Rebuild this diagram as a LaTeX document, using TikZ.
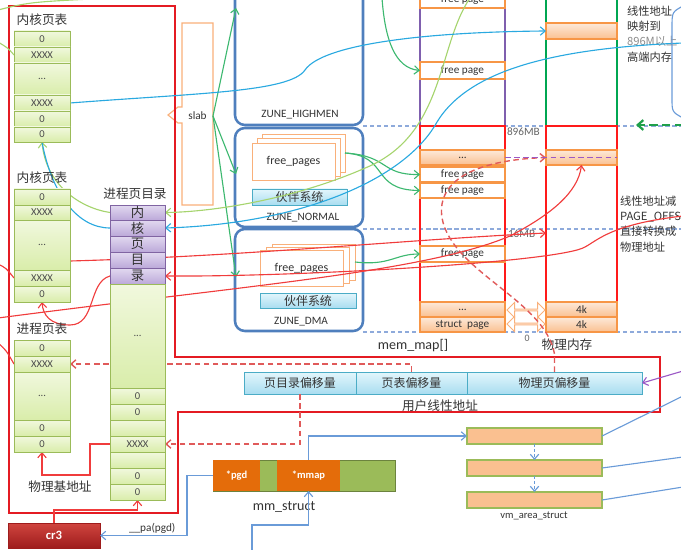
\documentclass[tikz,border=0pt]{standalone}
\usepackage{fontspec}
\setmainfont{Carlito}
\newfontfamily\cjk{Noto Sans CJK SC}
\usetikzlibrary{arrows.meta,shapes.arrows}
\pgfdeclarelayer{front}
\pgfsetlayers{main,front}

\definecolor{txt}{HTML}{333333}
\definecolor{frred}{HTML}{E41B23}
\definecolor{tblgreen}{HTML}{9BBB59}
\definecolor{tblA}{HTML}{F1F8DE}
\definecolor{tblB}{HTML}{D9EDAA}
\definecolor{dirline}{HTML}{8064A2}
\definecolor{dirA}{HTML}{E2D9F0}
\definecolor{dirB}{HTML}{BCA9D9}
\definecolor{zoneblue}{HTML}{4F7FBD}
\definecolor{sheetor}{HTML}{F9B07A}
\definecolor{orline}{HTML}{F79646}
\definecolor{orA}{HTML}{FDE9D9}
\definecolor{orB}{HTML}{FAC090}
\definecolor{barline}{HTML}{4BACC6}
\definecolor{barA}{HTML}{E3F6FC}
\definecolor{barB}{HTML}{A9DDF0}
\definecolor{sepblue}{HTML}{8EAADB}
\definecolor{memred}{HTML}{FF1A1A}
\definecolor{purcol}{HTML}{7F5FAE}
\definecolor{grncol}{HTML}{00A651}
\definecolor{lnred}{HTML}{F03C3C}
\definecolor{dashred}{HTML}{E05A5A}
\definecolor{lngreen}{HTML}{A6D46E}
\definecolor{sgreen}{HTML}{3DB870}
\definecolor{sky}{HTML}{2AA9E0}
\definecolor{mblue}{HTML}{6A9BD8}
\definecolor{purline}{HTML}{9B59C6}
\definecolor{dgreen}{HTML}{1FA04A}
\definecolor{crA}{HTML}{D0453F}
\definecolor{crB}{HTML}{9E1C1C}
\definecolor{mmgreen}{HTML}{9BBB59}
\definecolor{mmorange}{HTML}{E46C0A}
\definecolor{vmfill}{HTML}{FAC090}

% box from corner (x1,y1) to (x2,y2), in pixels
\newcommand\bx[7]{\node[#1,minimum width={(#5-#3)*0.025cm},minimum height={(#6-#4)*0.025cm}] (#2) at ({(#3+#5)/2},{(#4+#6)/2}) {#7};}
\newcommand\tdots{...}

\tikzset{
  every node/.style={inner sep=0pt,outer sep=0pt,text=txt},
  barb/.style={-{Straight Barb[length=3.5pt,width=6pt]}},
  redframe/.style={draw=frred,line width=1.5pt},
  gcell/.style={draw=tblgreen,line width=0.7pt,top color=tblA,bottom color=tblB,font=\fontsize{7.5}{8}\selectfont,text=black!70},
  pcell/.style={draw=dirline,line width=0.7pt,top color=dirA,bottom color=dirB,font=\cjk\fontsize{9.5}{9.5}\selectfont},
  zone/.style={draw=zoneblue,line width=1.8pt,rounded corners=7pt},
  sheet/.style={draw=sheetor,fill=white,line width=0.7pt,font=\fontsize{8.5}{9}\selectfont},
  buddy/.style={draw=barline,line width=0.5pt,top color=barA,bottom color=barB,font=\cjk\fontsize{8.5}{9}\selectfont},
  fpage/.style={draw=orline,fill=white,line width=1.4pt,font=\fontsize{8}{8}\selectfont},
  opage/.style={draw=orline,line width=0.8pt,top color=orA,bottom color=orB,font=\fontsize{8}{8}\selectfont},
  redcol/.style={draw=memred,line width=2pt},
  cjklbl/.style={font=\cjk\fontsize{9}{9}\selectfont},
  zlbl/.style={font=\fontsize{8}{9}\selectfont},
  zonesep/.style={draw=sepblue,line width=0.8pt,dash pattern=on 3pt off 2pt},
  linaddr/.style={draw=barline,line width=0.6pt,top color=barA,bottom color=barB,font=\cjk\fontsize{8.5}{9}\selectfont},
  vm/.style={draw=tblgreen,fill=vmfill,line width=0.8pt},
  rline/.style={draw=lnred,line width=0.8pt},
  rdash/.style={draw=dashred,line width=1pt,dash pattern=on 4pt off 2.5pt},
  lgline/.style={draw=lngreen,line width=0.8pt},
  sgline/.style={draw=sgreen,line width=0.8pt},
  skyline/.style={draw=sky,line width=0.8pt},
  mline/.style={draw=mblue,line width=0.8pt},
  twoway/.style={double arrow,draw=sheetor,fill=white,line width=0.7pt,double arrow head extend=2.5pt},
}

\begin{document}
\begin{tikzpicture}[x=0.025cm,y=-0.025cm]
\useasboundingbox (0,0) rectangle (681,550);

% zone separators
\draw[zonesep] (363,126) -- (681,126);
\draw[zonesep] (363,229) -- (681,229);
\draw[zonesep] (363,332) -- (681,332);

% slab
\draw[draw=sheetor,fill=white,line width=0.8pt] (182,23) -- (213,23) -- (213,205) -- (182,205) -- (182,123) -- (178,123) -- (168,115) -- (178,107) -- (182,107) -- cycle;
\bx{zlbl}{slab}{182}{23}{213}{209}{slab}

% zones
\bx{zone}{zhigh}{235}{-20}{363}{125}{}
\bx{zone}{znorm}{235}{128}{363}{227}{}
\bx{zone}{zdma}{235}{229}{363}{331}{}
\node[zlbl] (lhigh) at (300,115) {ZUNE\_HIGHMEN};
\node[zlbl] (lnorm) at (303,218) {ZUNE\_NORMAL};
\node[zlbl] (ldma) at (301,322) {ZUNE\_DMA};

% free_pages stacks
\bx{sheet}{nfb}{262}{134}{345}{172}{}
\draw[sheet] (257,138) rectangle (340,176);
\bx{sheet}{nfp}{252}{143}{335}{180}{free\_pages}
\bx{buddy}{nb}{252}{189}{347}{205}{伙伴系统}
\bx{sheet}{dfb}{272}{244}{355}{280}{}
\draw[sheet] (266,247) rectangle (349,283);
\bx{sheet}{dfp}{260}{250}{343}{286}{free\_pages}
\bx{buddy}{db}{260}{293}{356}{308}{伙伴系统}

% mem_map column
\draw[purcol,line width=2pt] (420,-4) -- (420,126) (505,-4) -- (505,126);
\bx{redcol}{memlow}{420}{126}{505}{302}{}
\bx{fpage}{fp0}{420}{-8}{505}{8}{free page}
\bx{fpage}{fph}{420}{62}{505}{79}{free page}
\bx{opage}{mu}{420}{150}{505}{165}{\tdots}
\bx{fpage}{fp2}{420}{167}{505}{182}{free page}
\bx{fpage}{fp3}{420}{183}{505}{198}{free page}
\bx{fpage}{fp4}{420}{246}{505}{262}{free page}
\bx{opage}{mb1}{420}{302}{505}{317}{\tdots}
\bx{opage}{mb2}{420}{317}{505}{332}{struct\ \ page}

% physical memory column
\draw[grncol,line width=2pt] (546,-4) -- (546,126) (617,-4) -- (617,126);
\bx{redcol}{physlow}{546}{126}{617}{302}{}
\bx{opage}{pu}{546}{23}{617}{39}{}
\bx{opage}{pp}{546}{150}{617}{165}{}
\bx{opage}{pb1}{546}{302}{617}{317}{4k}
\bx{opage}{pb2}{546}{317}{617}{332}{4k}
\node[twoway,minimum height={38*0.025cm},minimum width={15*0.025cm}] (tw1) at (526,310) {};
\node[twoway,minimum height={38*0.025cm},minimum width={15*0.025cm}] (tw2) at (526,324) {};

\node[anchor=west,font=\fontsize{8}{9}\selectfont,text=black!60] (l896) at (507,132) {896MB};
\node[anchor=west,font=\fontsize{8}{9}\selectfont,text=black!60] (l16) at (508,234) {16MB};
\node[font=\fontsize{7}{8}\selectfont,text=black!60] (lzero) at (527,338) {0};
\node[font=\fontsize{10}{11}\selectfont] (lmm) at (413,346) {mem\_map[]};
\node[cjklbl] (lpm) at (567,345) {物理内存};

% right notes
\node[anchor=north west,align=left,font=\cjk\fontsize{8}{10.8}\selectfont] (nhigh) at (627,6) {线性地址\\映射到\\{\color{black!45}896M以上}\\高端内存};
\node[anchor=north west,align=left,font=\cjk\fontsize{8}{10.8}\selectfont] (nlow) at (620,196) {线性地址减\\PAGE\_OFFS\\直接转换成\\物理地址};

% user linear address
\bx{linaddr}{la1}{244}{372}{356}{394}{页目录偏移量}
\bx{linaddr}{la2}{356}{372}{467}{394}{页表偏移量}
\bx{linaddr}{la3}{467}{372}{642}{394}{物理页偏移量}
\node[cjklbl] (lua) at (440,406) {用户线性地址};

% mm_struct and vm_area_struct
\bx{fill=mmgreen,draw=mmgreen!70!black,line width=0.6pt}{mm}{213}{460}{395}{491}{}
\bx{fill=mmorange,font=\fontsize{7.5}{8}\selectfont\bfseries,text=white}{pgd}{213}{460}{260}{491}{*pgd}
\bx{fill=mmorange,font=\fontsize{7.5}{8}\selectfont\bfseries,text=white}{mmap}{277}{460}{340}{491}{*mmap}
\node[font=\fontsize{10}{11}\selectfont] (lmms) at (284,507) {mm\_struct};
\bx{vm}{vm1}{467}{428}{602}{444}{}
\bx{vm}{vm2}{467}{460}{602}{476}{}
\bx{vm}{vm3}{467}{492}{602}{508}{}
\node[font=\fontsize{7.5}{8}\selectfont] (lvm) at (534,516) {vm\_area\_struct};

% cr3
\bx{top color=crA,bottom color=crB,draw=crB,font=\fontsize{9}{10}\selectfont\bfseries,text=white}{cr3}{8}{523}{100}{548}{cr3}

% red frame
\draw[redframe] (9,6) -- (175,6) -- (175,357) -- (660,357) -- (660,412) -- (178,412) -- (178,513) -- (9,513) -- cycle;

\begin{pgfonlayer}{front}
% kernel page table one
\node[cjklbl] (lka) at (42,20) {内核页表};
\foreach \a/\b/\lab [count=\i] in {31/47/0,47/63/XXXX,63/95/\tdots,95/111/XXXX,111/127/0,127/142/0}
  {\bx{gcell}{ka\i}{14}{\a}{70}{\b}{\lab}}

% kernel page table two
\node[cjklbl] (lkb) at (42,178) {内核页表};
\foreach \a/\b/\lab [count=\i] in {189/205/0,205/220/XXXX,220/270/\tdots,270/286/XXXX,286/302/0}
  {\bx{gcell}{kb\i}{14}{\a}{70}{\b}{\lab}}

% process page table
\node[cjklbl] (lkc) at (42,329) {进程页表};
\foreach \a/\b/\lab [count=\i] in {340/356/0,356/372/XXXX,372/420/\tdots,420/436/0,436/452/0}
  {\bx{gcell}{kc\i}{14}{\a}{70}{\b}{\lab}}
\node[cjklbl] (lbase) at (60,487) {物理基地址};

% process page directory
\node[cjklbl] (lpd) at (135,194) {进程页目录};
\foreach \a/\b/\lab [count=\i] in {205/220/内,220/236/核,236/252/页,252/268/目,268/284/录}
  {\bx{pcell}{pd\i}{110}{\a}{165}{\b}{\lab}}
\foreach \a/\b/\lab [count=\i] in {284/388/\tdots,388/404/0,404/420/0,420/436/{},436/452/XXXX,452/468/{},468/484/0,484/500/0}
  {\bx{gcell}{pg\i}{110}{\a}{165}{\b}{\lab}}
\end{pgfonlayer}

% free ends
\coordinate (lg0) at (470,-2);
\coordinate (bl0) at (683,43);
\coordinate (s1) at (236,8);
\coordinate (s2) at (236,174);
\coordinate (s3) at (236,277);
\coordinate (g0) at (382,-2);
\coordinate (r1) at (70,261);
\coordinate (r1e) at (546,233);
\coordinate (r2) at (683,216);
\coordinate (r3) at (-2,318);
\coordinate (r4) at (-2,264);
\coordinate (r5) at (-2,343);
\coordinate (mb0) at (252,552);
\coordinate (v1) at (683,396);
\coordinate (v2) at (683,457);
\coordinate (v3) at (683,487);
\coordinate (pl0) at (683,371);
\coordinate (gd0) at (683,125);
\coordinate (gd1) at (636,125);
\coordinate (bt0) at (683,6);
\coordinate (bt1) at (683,118);
\coordinate (lt0) at (-2,10);
\coordinate (lt1) at (112,-2);
\coordinate (lt2) at (-2,42);

% slab and free pages
\draw[sgline,barb] (slab.east) -- (s1);
\draw[sgline,barb] (slab.east) -- (s2);
\draw[sgline,barb] (slab.east) -- (s3);
\draw[sgline,barb] (g0) .. controls (385,40) and (395,68) .. (fph.west);
\draw[sgline,barb] (nfb.east) .. controls (390,156) and (380,175) .. (fp2.west);
\draw[sgline,barb] (nfb.east) .. controls (390,156) and (370,190) .. (fp3.west);
\draw[sgline,barb] (dfb.east) .. controls (390,266) and (395,254) .. (fp4.west);

% kernel page directory links
\draw[lgline] (lt0) .. controls (30,2) .. (lt1);
\draw[lgline] (lt2) .. controls (8,48) .. (ka2.west);
\draw[lgline,barb] (lg0) .. controls (438,45) and (445,130) .. (372,165) .. controls (300,198) and (215,212) .. (pd1.east);
\draw[lgline,barb] (pd1.west) .. controls (80,208) and (46,185) .. (ka6.south);
\draw[skyline] (pd2.west) .. controls (78,228) and (52,195) .. (ka6.south);
\draw[skyline,barb] (bl0) .. controls (560,48) and (470,68) .. (437,122) .. controls (405,180) and (300,224) .. (pd2.east);
\draw[skyline,barb] (ka4.east) .. controls (200,93) and (290,92) .. (305,70) .. controls (322,45) and (420,32) .. (pu.west);
\draw[mline] (bt0) .. controls (672,12) .. (672,28) -- (672,98) .. controls (672,112) .. (bt1);
\draw[dgreen,line width=1.6pt,dash pattern=on 6pt off 3pt,-{Straight Barb[length=4pt,width=7pt]}] (gd0) -- (gd1);

% red links
\draw[rline,barb] (r1) .. controls (250,256) and (400,240) .. (r1e);
\draw[rline,barb] (r2) .. controls (612,224) and (598,240) .. (585,247) .. controls (560,262) and (300,277) .. (pd5.east);
\draw[rline,barb] (r3) .. controls (250,285) and (425,272) .. (510,236) .. controls (552,214) and (578,192) .. (pp.south);
\draw[rline] (r4) .. controls (6,268) .. (kb4.west);
\draw[rline] (r5) .. controls (6,350) .. (kc2.west);
\draw[rline,barb] (pd5.west) .. controls (88,282) and (96,325) .. (70,325) .. controls (50,325) and (43,315) .. (kb5.south);
\draw[rline,barb] (cr3.north) -- ++(0,-13) -| (pg8.south);
\draw[rline,barb] (pg5.west) -- ++(-20,0) -- ++(0,31) -| (kc5.south);
\draw[rdash,barb] (la1.south) |- (pg5.east);
\draw[rdash,barb] (la2.north) |- (kc2.east);
\draw[rdash,barb] (la3.north) -- ++(0,-18) .. controls (545,300) and (452,272) .. (442,218) .. controls (436,178) and (480,160) .. (pp.west);
\draw[purline,line width=1pt,dash pattern=on 4pt off 2.5pt] (mu.east) -- (pp.east);

% mm links
\draw[mline,barb] (pgd.west) -- ++(-26,0) |- (cr3.east) node[pos=0.7,above=1.5pt,font=\fontsize{8}{9}\selectfont] (lpa) {\_\_pa(pgd)};
\draw[mline,barb] (mmap.north) |- (vm1.west);
\draw[mline,barb] (mb0) -- ++(0,-27) -| (mmap.south);
\draw[mline,dash pattern=on 2pt off 1.5pt,barb] (vm1.south) -- (vm2.north);
\draw[mline,dash pattern=on 2pt off 1.5pt,barb] (vm2.south) -- (vm3.north);
\draw[mline] (vm1.east) -- (v1);
\draw[mline] (vm2.east) -- (v2);
\draw[mline] (vm3.east) -- (v3);
\draw[purline,line width=0.8pt,barb] (pl0) -- (la3.east);

\end{tikzpicture}
\end{document}
